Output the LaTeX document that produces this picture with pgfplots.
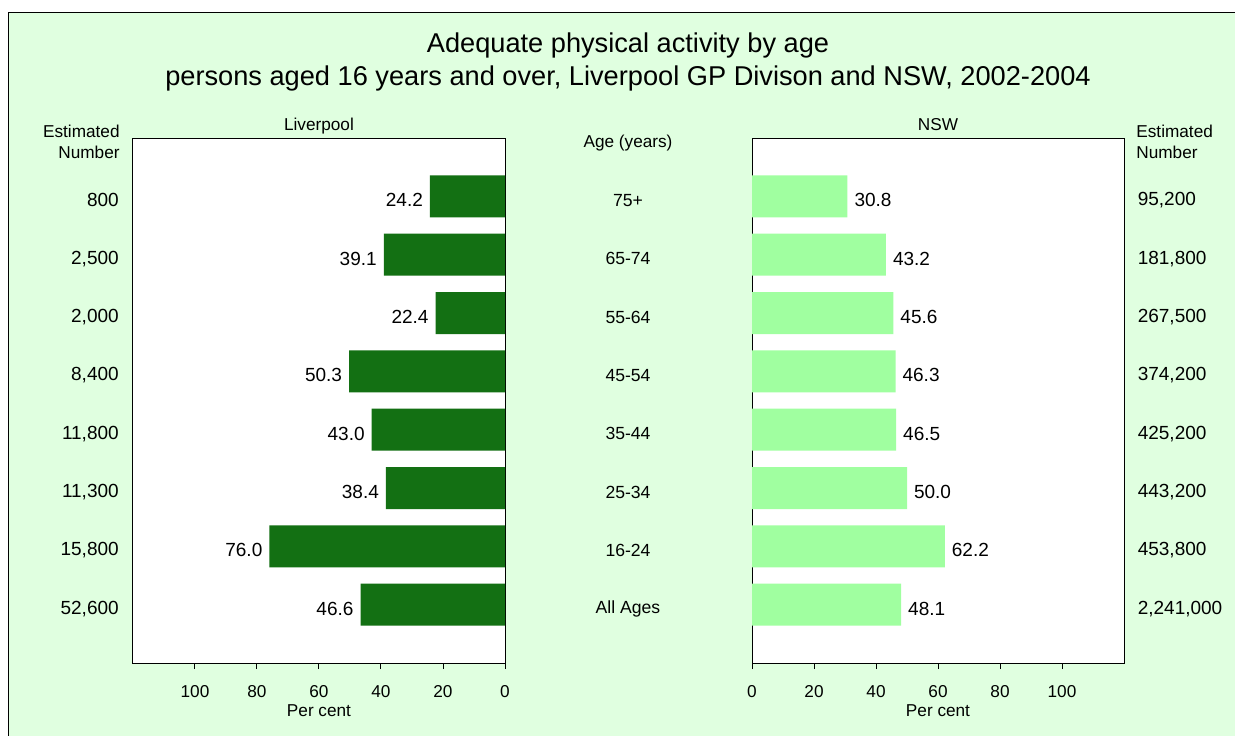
\documentclass[border=0pt]{standalone}
\usepackage{pgfplots}
\usepackage{pgfplotstable}
\pgfplotsset{compat=1.18}
\usepackage{fontspec}
\setmainfont{Liberation Sans}
\definecolor{bg}{RGB}{224,255,224}
\definecolor{dkg}{RGB}{19,112,19}
\definecolor{ltg}{RGB}{160,255,160}
\newcommand{\sz}{\fontsize{8.6}{11}\selectfont}
\newcommand{\vz}{\fontsize{9.5}{11}\selectfont}
\newcommand{\az}{\fontsize{8.8}{11}\selectfont}
\pgfkeys{/pgf/number format/assume math mode=true}

\pgfplotstableread{
pos lv nsw ax age
0 46.6 48.1 -40 {All Ages}
1 76.0 62.2 -40 16-24
2 38.4 50.0 -40 25-34
3 43.0 46.5 -40 35-44
4 50.3 46.3 -40 45-54
5 22.4 45.6 -40 55-64
6 39.1 43.2 -40 65-74
7 24.2 30.8 -40 75+
}\data

\pgfplotsset{
  common/.style={
    scale only axis, width=186pt, height=262.5pt,
    anchor=south west,
    xmin=0, xmax=120, ymin=-1, ymax=8,
    xtick={0,20,...,100}, ytick={0,...,7},
    tick align=outside, xtick pos=bottom,
    major tick length=3pt,
    ytick style={draw=none},
    xtick style={black, line width=0.5pt},
    axis line style={black, line width=0.5pt},
    axis background/.style={fill=white},
    font=\sz,
    xticklabel style={font=\sz, yshift=-4.5pt},
    yticklabel style={font=\vz, yshift=-2pt},
    title style={font=\sz, at={(axis description cs:0.5,1)}, anchor=base, yshift=-2pt},
    xlabel style={font=\sz, at={(axis description cs:0.5,0)}, anchor=center, yshift=-24pt},
    clip=false,
  },
  vals/.style={nodes near coords, point meta=x,
    nodes near coords style={font=\vz, anchor=#1, yshift=-2pt,
      /pgf/number format/fixed, /pgf/number format/fixed zerofill,
      /pgf/number format/precision=1}},
}

\begin{document}
\begin{tikzpicture}
\useasboundingbox (0,0) rectangle (617.5pt,-367.5pt);
\fill[white] (0,0) rectangle (617.5pt,-367.5pt);
\draw[fill=bg, line width=0.5pt] (4pt,-6pt) rectangle (622pt,-372pt);
\begin{scope}[x=0.5pt, y=-0.5pt]
\node[anchor=base, font=\fontsize{13.6}{14.5}\selectfont, inner sep=0pt] at (628,52.5) {Adequate physical activity by age};
\node[anchor=base, font=\fontsize{13.6}{14.5}\selectfont, inner sep=0pt] at (628,85) {persons aged 16 years and over, Liverpool GP Divison and NSW, 2002-2004};
\node[anchor=base east, font=\sz, inner sep=0pt] at (120,137) {Estimated};
\node[anchor=base east, font=\sz, inner sep=0pt] at (120,158.5) {Number};
\node[anchor=base west, font=\sz, inner sep=0pt] at (1136,137) {Estimated};
\node[anchor=base west, font=\sz, inner sep=0pt] at (1136,158.5) {Number};
\node[anchor=base, font=\sz, inner sep=0pt] at (628,147) {Age (years)};
\end{scope}

\begin{axis}[common, at={(66.5pt,-331.5pt)},
  x dir=reverse,
  yticklabels={{52,600},{15,800},{11,300},{11,800},{8,400},{2,000},{2,500},{800}},
  yticklabel style={xshift=-0.6pt},
  title={Liverpool}, xlabel={Per cent}]
\addplot[xbar, bar width=21pt, bar shift=0pt, fill=dkg, draw=none, vals=east]
  table[x=lv, y=pos]{\data};
\end{axis}

\begin{axis}[common, at={(376pt,-331.5pt)},
  yticklabel pos=right,
  yticklabels={{2,241,000},{453,800},{443,200},{425,200},{374,200},{267,500},{181,800},{95,200}},
  yticklabel style={xshift=0.35pt},
  title={NSW}, xlabel={Per cent}]
\addplot[xbar, bar width=21pt, bar shift=0pt, fill=ltg, draw=none, vals=west]
  table[x=nsw, y=pos]{\data};
\addplot[draw=none, mark=none, nodes near coords, point meta=explicit symbolic,
  nodes near coords style={anchor=center, font=\az, yshift=-2pt}]
  table[x=ax, y=pos, meta=age]{\data};
\end{axis}
\end{tikzpicture}
\end{document}
